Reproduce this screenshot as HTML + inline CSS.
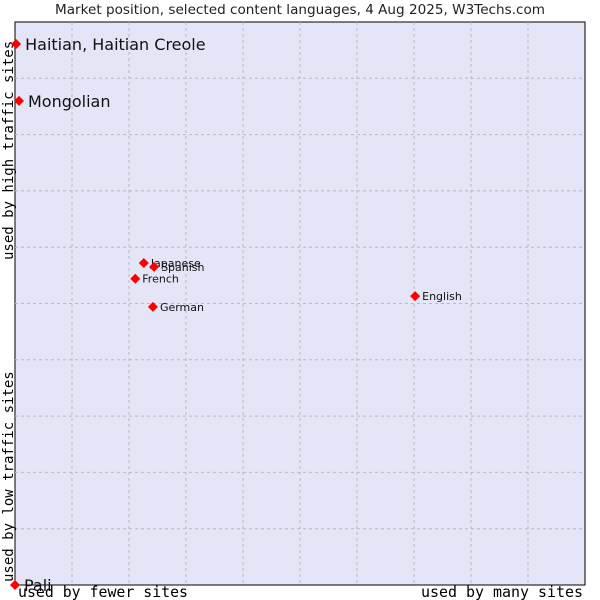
<!DOCTYPE html>
<html><head><meta charset="utf-8"><style>
body{margin:0;background:#fff;}
svg{display:block;font-family:"DejaVu Sans","Liberation Sans",sans-serif;}
</style></head><body>
<svg id="chart" width="600" height="600" viewBox="0 0 600 600">
<text x="55" y="14" textLength="490" lengthAdjust="spacingAndGlyphs" font-size="13.5" fill="#222">Market position, selected content languages, 4 Aug 2025, W3Techs.com</text>
<rect x="15" y="22" width="570" height="563" fill="#e4e6f8" stroke="#000" stroke-width="1"/>
<g id="grid"></g>
<text transform="translate(13,260) rotate(-90)" font-family="DejaVu Sans Mono, Liberation Mono, monospace" font-size="14" fill="#000">used by high traffic sites</text>
<text transform="translate(13,582) rotate(-90)" font-family="DejaVu Sans Mono, Liberation Mono, monospace" font-size="14" fill="#000">used by low traffic sites</text>
<text x="18" y="597" textLength="170" lengthAdjust="spacingAndGlyphs" font-family="DejaVu Sans Mono, Liberation Mono, monospace" font-size="15" fill="#000">used by fewer sites</text>
<text x="421" y="597" textLength="162" lengthAdjust="spacingAndGlyphs" font-family="DejaVu Sans Mono, Liberation Mono, monospace" font-size="15" fill="#000">used by many sites</text>
<g id="points"></g>
</svg>
<script>
const languages=["Haitian, Haitian Creole","Mongolian","Japanese","Spanish","French","German","English","Pali"];
const xValues=[0.2,0.7,22.6,24.4,21.1,24.2,70.2,0];
const yValues=[96.1,86.0,57.2,56.5,54.4,49.4,51.3,0];
const bigLabel=[true,true,false,false,false,false,false,true];
const gridTicks=[1,2,3,4,5,6,7,8,9];
const NS="http://www.w3.org/2000/svg";
const L=15,R=585,T=22,B=585;
const sx=v=>L+v/100*(R-L);
const sy=v=>B-v/100*(B-T);
const grid=document.getElementById('grid');
gridTicks.forEach(t=>{
  const v=document.createElementNS(NS,'line');
  
  
  v.setAttribute('x1',sx(t*10));v.setAttribute('x2',sx(t*10));v.setAttribute('y1',T);v.setAttribute('y2',B);
  v.setAttribute('stroke','#b8b8c0');v.setAttribute('stroke-dasharray','3,3');
  grid.appendChild(v);
  const h=document.createElementNS(NS,'line');
  
  
  h.setAttribute('y1',sy(t*10));h.setAttribute('y2',sy(t*10));h.setAttribute('x1',L);h.setAttribute('x2',R);
  h.setAttribute('stroke','#b8b8c0');h.setAttribute('stroke-dasharray','3,3');
  grid.appendChild(h);
});
const pts=document.getElementById('points');
languages.forEach((name,i)=>{
  const x=sx(xValues[i]),y=sy(yValues[i]);
  const d=document.createElementNS(NS,'path');
  
  
  d.setAttribute('d',`M${x} ${y-5}L${x+5} ${y}L${x} ${y+5}L${x-5} ${y}Z`);
  d.setAttribute('fill','#f00');
  pts.appendChild(d);
  const t=document.createElementNS(NS,'text');
  
  
  const big=bigLabel[i];
  t.setAttribute('x',x+(big?9:7));
  t.setAttribute('y',y+(big?6:4));
  t.setAttribute('font-size',big?16:11);
  t.setAttribute('fill','#111');
  t.textContent=name;
  pts.appendChild(t);
});
</script>
</body></html>
